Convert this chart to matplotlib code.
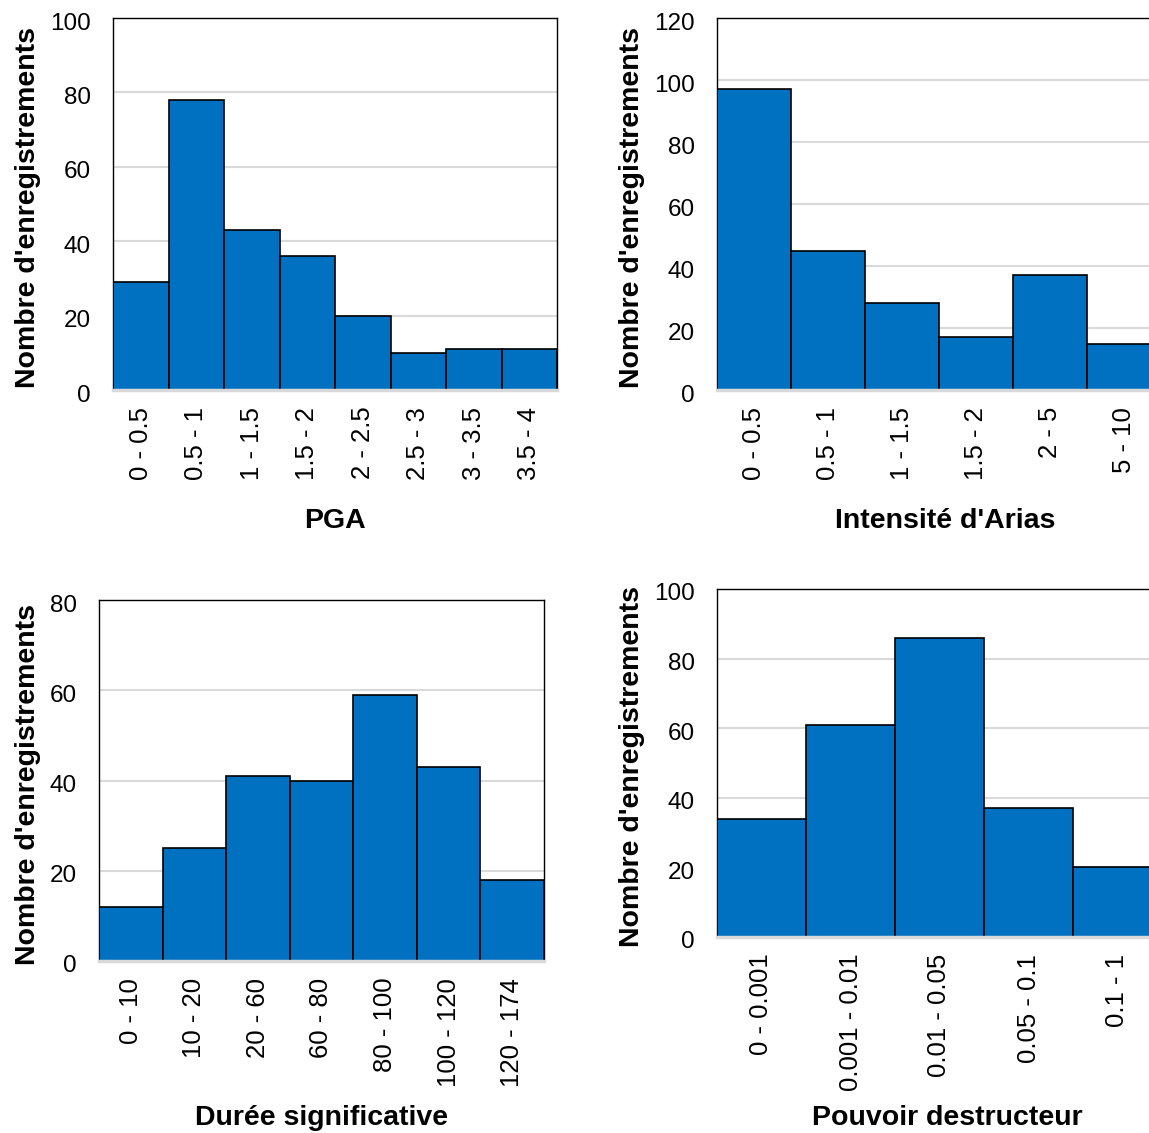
import matplotlib
matplotlib.use("Agg")
import matplotlib.pyplot as plt
from matplotlib.transforms import ScaledTranslation

plt.rcParams['font.family'] = ['Liberation Sans', 'DejaVu Sans']

# PGA
pga_cats = ['0 - 0.5', '0.5 - 1', '1 - 1.5', '1.5 - 2', '2 - 2.5', '2.5 - 3', '3 - 3.5', '3.5 - 4']
pga_vals = [29, 78, 43, 36, 20, 10, 11, 11]

# Intensité d'Arias
arias_cats = ['0 - 0.5', '0.5 - 1', '1 - 1.5', '1.5 - 2', '2 - 5', '5 - 10']
arias_vals = [97, 45, 28, 17, 37, 15]

# Durée significative
duree_cats = ['0 - 10', '10 - 20', '20 - 60', '60 - 80', '80 - 100', '100 - 120', '120 - 174']
duree_vals = [12, 25, 41, 40, 59, 43, 18]

# Pouvoir destructeur
pouvoir_cats = ['0 - 0.001', '0.001 - 0.01', '0.01 - 0.05', '0.05 - 0.1', '0.1 - 1']
pouvoir_vals = [34, 61, 86, 37, 20]

ylab = "Nombre d'enregistrements"
W, H = 1149, 1133

fig = plt.figure(figsize=(W / 100, H / 100), dpi=100)
shift = ScaledTranslation(0, -3 / 100, fig.dpi_scale_trans)


def panel(left, top, right, bottom, cats, vals, ymax, step, xlabel, xlab_top, xlab_dx=0):
    ax = fig.add_axes([left / W, 1 - bottom / H, (right - left) / W, (bottom - top) / H])
    x = range(len(cats))
    ax.bar(x, vals, width=1.0, color='#0070C0', edgecolor='black', linewidth=1.2, zorder=3)
    ax.set_xlim(-0.5, len(cats) - 0.5)
    ax.set_ylim(0, ymax)
    ax.set_yticks(range(0, ymax + 1, step))
    ax.set_xticks(list(x))
    ax.set_xticklabels(cats, rotation=90)
    ax.tick_params(axis='both', length=0)
    ax.tick_params(axis='y', pad=16, labelsize=17.5)
    ax.tick_params(axis='x', pad=12, labelsize=18.5)
    for lab in ax.get_yticklabels():
        lab.set_transform(lab.get_transform() + shift)
    ax.yaxis.grid(True, color='#d9d9d9', linewidth=1.5, zorder=0)
    ax.set_axisbelow(True)
    for s in ['top', 'left', 'right']:
        ax.spines[s].set_color('black')
        ax.spines[s].set_linewidth(1.0)
    ax.spines['bottom'].set_color('#d9d9d9')
    ax.spines['bottom'].set_linewidth(2.5)
    ax.spines['bottom'].set_zorder(4)
    ax.set_ylabel(ylab, fontsize=20.5, fontweight='bold')
    ax.yaxis.set_label_coords((41 - left) / (right - left), 0.49)
    ax.set_xlabel(xlabel, fontsize=20.5, fontweight='bold')
    ax.xaxis.set_label_coords(0.5 + xlab_dx / (right - left), -(xlab_top - bottom) / (bottom - top))
    return ax


panel(113, 18, 557, 390, pga_cats, pga_vals, 100, 20, 'PGA', 508)
ax2 = panel(717, 18, 1161, 390, arias_cats, arias_vals, 120, 20, "Intensité d'Arias", 508, 6)
ax2.yaxis.set_label_coords((645 - 717) / 444, 0.49)
panel(99, 600, 544, 961, duree_cats, duree_vals, 80, 20, 'Durée significative', 1105)
ax4 = panel(717, 589, 1162, 937, pouvoir_cats, pouvoir_vals, 100, 20, 'Pouvoir destructeur', 1105, 8)
ax4.yaxis.set_label_coords((645 - 717) / 445, 0.49)

fig.savefig('out.png', dpi=100)
